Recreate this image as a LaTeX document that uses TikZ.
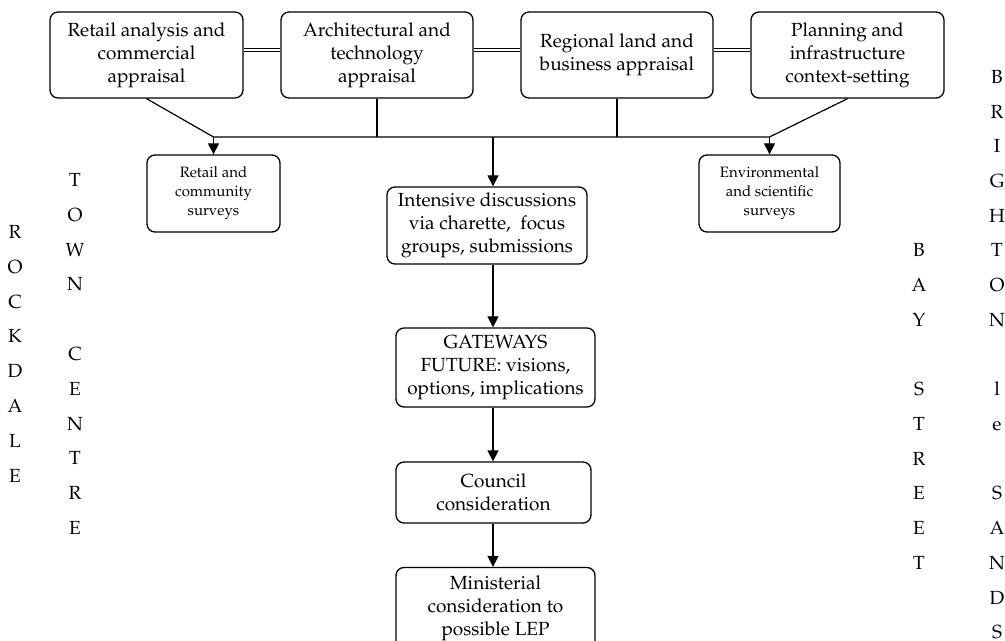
\documentclass[tikz,border=0pt]{standalone}
\usepackage[T1]{fontenc}
\renewcommand{\rmdefault}{ppl}
\usetikzlibrary{arrows.meta}
\begin{document}
\begin{tikzpicture}[x=0.5pt,y=-0.5pt,
  box/.style={draw, line width=0.65pt, rounded corners=4pt, align=center, inner sep=0pt, font=\fontsize{9.5}{11.5}\selectfont},
  sbox/.style={box, font=\fontsize{7.5}{9.5}\selectfont},
  conn/.style={line width=0.6pt},
  arr/.style={conn, -{Triangle[length=5.5pt,width=5.5pt]}},
  dbl/.style={double, double distance=1pt, line width=0.45pt},
  letter/.style={anchor=base, inner sep=0pt, font=\fontsize{9.5}{11.5}\selectfont}]
\useasboundingbox (0,0) rectangle (1005,641);
% top row
\node[box, minimum width=96.5pt, minimum height=43pt] (b1) at (146.5,55) {Retail analysis and\\commercial\\appraisal};
\node[box, minimum width=96pt, minimum height=43pt] (b2) at (377,55) {Architectural and\\technology\\appraisal};
\node[box, minimum width=96pt, minimum height=43pt] (b3) at (617,55) {Regional land and\\business appraisal};
\node[box, minimum width=96.5pt, minimum height=43pt] (b4) at (847.5,55) {Planning and\\infrastructure\\context-setting};
% side boxes
\node[sbox, minimum width=66.5pt, minimum height=38.5pt] (s1) at (213.5,193.5) {Retail and\\community\\surveys};
\node[sbox, minimum width=70.5pt, minimum height=38.5pt] (env) at (769.5,193.5) {Environmental\\and scientific\\surveys};
% centre column
\node[box, minimum width=100pt, minimum height=38.5pt] (int) at (487,225.5) {Intensive discussions\\via charette,~ focus\\groups, submissions};
\node[box, minimum width=99.5pt, minimum height=39.5pt] (gw) at (495.5,367.5) {GATEWAYS\\FUTURE: visions,\\options, implications};
\node[box, minimum width=97.5pt, minimum height=30.5pt] (co) at (493.5,492.5) {Council\\consideration};
\node[box, minimum width=99.5pt, minimum height=41pt] (mi) at (495.5,608.5) {Ministerial\\consideration to\\possible LEP};
% double links
\draw[dbl] ([yshift=2.5pt]b1.east) -- ([yshift=2.5pt]b2.west);
\draw[dbl] ([yshift=2.5pt]b2.east) -- ([yshift=2.5pt]b3.west);
\draw[dbl] ([yshift=2.5pt]b3.east) -- ([yshift=2.5pt]b4.west);
% junctions
\coordinate (j1) at (213.5,137);
\coordinate (j3) at (493,137);
\coordinate (j5) at (769.5,137);
\draw[conn] (b1.south) -- (j1) -- (j5) -- (b4.south);
\draw[conn] (b2.south) -- (b2.south |- j1);
\draw[conn] (b3.south) -- (b3.south |- j1);
\draw[arr] (j1) -- (s1.north);
\draw[arr] (j5) -- (env.north);
\draw[arr] (j3) -- (j3 |- int.north);
\draw[arr] (int.south -| j3) -- (gw.north -| j3);
\draw[arr] (gw.south -| j3) -- (co.north -| j3);
\draw[arr] (co.south -| j3) -- (mi.north -| j3);
% vertical words
\foreach \t [count=\r from 0] in {R,O,C,K,D,A,L,E}
  \node[letter] (rock\r) at (15,{238.5+34.8*\r}) {\t};
\foreach \t/\r in {T/0,O/1,W/2,N/3,C/5,E/6,N/7,T/8,R/9,E/10}
  \node[letter] (town\r) at (75,{186.5+34.8*\r}) {\t};
\foreach \t/\r in {B/5,A/6,Y/7,S/9,T/10,R/11,E/12,E/13,T/14}
  \node[letter] (bay\r) at (919,{83.5+34.7*\r}) {\t};
\foreach \t/\r in {B/0,R/1,I/2,G/3,H/4,T/5,O/6,N/7,l/9,e/10,S/12,A/13,N/14,D/15,S/16}
  \node[letter] (bri\r) at (997,{83.5+34.7*\r}) {\t};
\end{tikzpicture}
\end{document}
